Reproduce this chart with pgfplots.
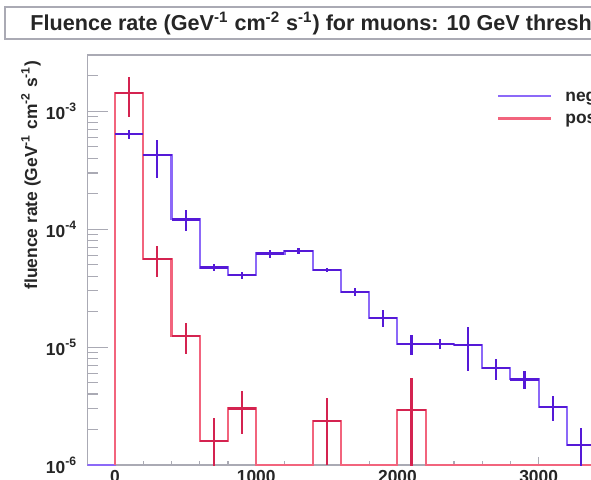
\documentclass[border=0pt]{standalone}
\usepackage{fontspec}
\setmainfont{Liberation Sans}
\usepackage{pgfplots}
\usepackage{pgfplotstable}
\pgfplotsset{compat=1.18}

\definecolor{negline}{RGB}{140,105,248}
\definecolor{negbar}{RGB}{85,25,215}
\definecolor{posline}{RGB}{242,100,125}
\definecolor{posbar}{RGB}{212,35,80}
\definecolor{framegray}{RGB}{170,170,180}

% histogram contents: left bin edge and fluence rate (empty bins sit on the axis floor)
\pgfplotstableread{
x y
-200 1e-6
0 6.38e-4
200 4.24e-4
400 1.21e-4
600 4.73e-5
800 4.07e-5
1000 6.22e-5
1200 6.52e-5
1400 4.50e-5
1600 2.94e-5
1800 1.77e-5
2000 1.06e-5
2200 1.07e-5
2400 1.05e-5
2600 6.60e-6
2800 5.32e-6
3000 3.12e-6
3200 1.48e-6
3400 1.48e-6
}\neghist

\pgfplotstableread{
x y
0 1e-6
0 1.43e-3
200 5.57e-5
400 1.24e-5
600 1.60e-6
800 3.02e-6
1000 1e-6
1200 1e-6
1400 2.36e-6
1600 1e-6
1800 1e-6
2000 2.92e-6
2200 1e-6
2400 1e-6
2600 1e-6
2800 1e-6
3000 1e-6
3200 1e-6
3400 1e-6
3600 1e-6
}\poshist

% bin centres, values and statistical errors
\pgfplotstableread{
x y ex ey
100 6.38e-4 100 6.0e-5
300 4.24e-4 100 1.5e-4
500 1.21e-4 100 2.4e-5
700 4.73e-5 100 3.5e-6
900 4.07e-5 100 3.0e-6
1100 6.22e-5 100 5.0e-6
1300 6.52e-5 100 4.0e-6
1500 4.50e-5 100 2.0e-6
1700 2.94e-5 100 2.5e-6
1900 1.77e-5 100 2.8e-6
2100 1.06e-5 100 2.0e-6
2300 1.07e-5 100 1.0e-6
2500 1.05e-5 100 4.2e-6
2700 6.60e-6 100 1.3e-6
2900 5.32e-6 100 9.0e-7
3100 3.12e-6 100 7.5e-7
3300 1.48e-6 100 6.0e-7
}\negerr

\pgfplotstableread{
x y ex ey
100 1.43e-3 100 5.3e-4
300 5.57e-5 100 1.6e-5
500 1.24e-5 100 3.6e-6
700 1.60e-6 100 9.0e-7
900 3.02e-6 100 1.2e-6
1500 2.36e-6 100 1.35e-6
2100 2.92e-6 100 2.5e-6
}\poserr

\begin{document}
\begin{tikzpicture}
\useasboundingbox (0,0) rectangle (295.5pt,239.5pt);
\clip (0,0) rectangle (295.5pt,239.5pt);
\fill[white] (0,0) rectangle (295.5pt,239.5pt);

% title box
\draw[framegray, line width=1pt, fill=white] (2.5pt,220pt) rectangle (420pt,236pt);
\node[anchor=base west, inner sep=0pt, font=\fontsize{10.8}{12}\selectfont\bfseries, text=black!85]
  at (15pt,224.5pt) {Fluence rate (GeV\textsuperscript{-1} cm\textsuperscript{-2} s\textsuperscript{-1}) for muons: 10 GeV threshold};

\begin{axis}[
  at={(43.75pt,7pt)}, anchor=south west,
  scale only axis, width=282.05pt, height=205pt,
  xmin=-195, xmax=3800,
  ymode=log, ymin=1e-6, ymax=3e-3,
  axis line style={framegray, line width=0.8pt},
  tick pos=left, tick align=inside,
  tick style={framegray, line width=0.6pt},
  xtick={0,1000,2000,3000}, xticklabels={0,1000,2000,3000},
  minor x tick num=4, scaled x ticks=false,
  xtick style={/pgfplots/major tick length=4pt, /pgfplots/minor tick length=2pt},
  ytick={1e-6,1e-5,1e-4,1e-3},
  yticklabels={10\textsuperscript{-6},10\textsuperscript{-5},10\textsuperscript{-4},10\textsuperscript{-3}},
  minor ytick={2e-6,3e-6,4e-6,5e-6,6e-6,7e-6,8e-6,9e-6,
               2e-5,3e-5,4e-5,5e-5,6e-5,7e-5,8e-5,9e-5,
               2e-4,3e-4,4e-4,5e-4,6e-4,7e-4,8e-4,9e-4,
               2e-3,3e-3},
  ytick style={/pgfplots/major tick length=10pt, /pgfplots/minor tick length=5.5pt},
  ticklabel style={font=\fontsize{8.7}{10}\selectfont\bfseries, text=black!85},
  yticklabel style={anchor=east, inner sep=0pt, xshift=-5pt},
  xticklabel style={anchor=north, inner sep=0pt, yshift=-2.5pt},
  ylabel={fluence rate (GeV\textsuperscript{-1} cm\textsuperscript{-2} s\textsuperscript{-1})},
  ylabel style={at={(axis description cs:-0.1002,0.9878)}, anchor=east, inner sep=0pt,
                font=\fontsize{8.7}{10}\selectfont\bfseries, text=black!85},
  legend style={at={(0.7254,0.8723)}, anchor=west, draw=none, fill=none,
                inner sep=0pt, row sep=3.3pt, column sep=6.5pt,
                nodes={inner sep=0pt},
                font=\fontsize{8.7}{10}\selectfont\bfseries, text=black!85},
  legend cell align=left,
  legend image code/.code={\draw[#1] (0pt,0pt) -- (26.6pt,0pt);},
]
\addplot[const plot mark left, draw=negline, line width=1.05pt, mark=none] table[x=x,y=y] {\neghist};
\addlegendentry{negative muons}
\addplot[const plot mark left, draw=posline, line width=1.05pt, mark=none] table[x=x,y=y] {\poshist};
\addlegendentry{positive muons}

% error crosses
\addplot[forget plot, draw=none, mark=none,
  error bars/.cd, x dir=both, x explicit, y dir=both, y explicit, error mark=none,
  error bar style={draw=negbar, line width=1.1pt, solid}]
  table[x=x, y=y, x error=ex, y error=ey] {\negerr};
\addplot[forget plot, draw=none, mark=none,
  error bars/.cd, x dir=both, x explicit, y dir=both, y explicit, error mark=none,
  error bar style={draw=posbar, line width=1.1pt, solid}]
  table[x=x, y=y, x error=ex, y error=ey] {\poserr};
\end{axis}
\end{tikzpicture}
\end{document}
